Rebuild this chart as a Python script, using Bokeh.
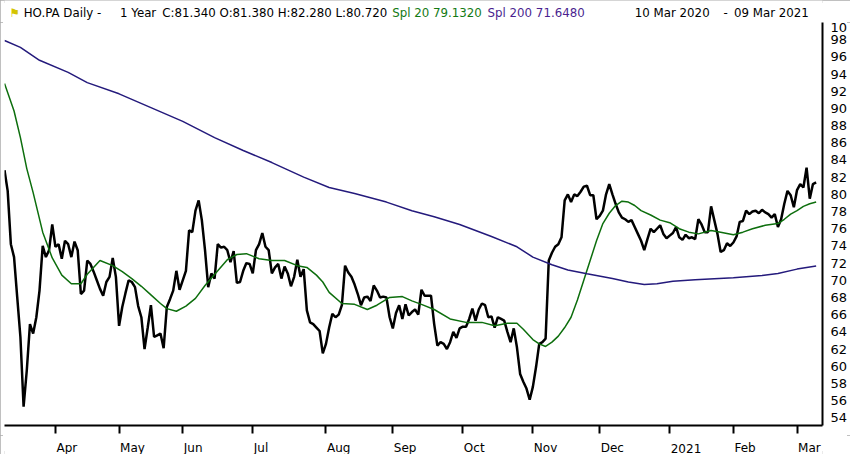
from bokeh.plotting import figure
from bokeh.models import Range1d, LinearAxis, FixedTicker
from bokeh.layouts import column
from bokeh.core.properties import value
from bokeh.embed import file_html
from bokeh.resources import INLINE

# ---- data ----
close = [
    82.8, 80.4, 74.2, 72.7, 68.0, 63.4, 55.3, 59.5, 64.9, 63.8,
    65.7, 68.8, 74.0, 72.7, 73.5, 76.5, 73.9, 74.2, 72.5, 74.6,
    74.2, 72.7, 74.5, 73.5, 68.4, 68.8, 72.3, 71.9, 71.0, 70.0,
    69.0, 68.2, 69.8, 70.4, 72.6, 70.4, 64.7, 66.9, 68.5, 70.0,
    69.8, 69.2, 67.0, 65.7, 62.0, 64.5, 67.1, 63.4, 63.6, 63.8,
    62.1, 66.9, 67.8, 68.8, 71.1, 68.9, 70.0, 71.1, 75.8, 75.6,
    78.1, 79.3, 77.0, 73.5, 69.2, 70.8, 70.2, 74.2, 73.8, 73.9,
    73.5, 72.1, 73.4, 69.7, 69.8, 71.1, 72.0, 71.9, 70.8, 73.5,
    74.2, 75.5, 73.9, 73.5, 70.8, 71.5, 71.9, 70.2, 71.6, 70.8,
    69.3, 70.4, 72.4, 70.4, 71.3, 66.5, 65.1, 64.9, 64.5, 64.1,
    61.5, 62.6, 64.5, 66.1, 65.7, 66.0, 67.1, 71.7, 70.9, 70.4,
    69.5, 68.4, 67.1, 68.0, 68.1, 67.6, 69.4, 68.8, 68.0, 68.1,
    68.0, 65.7, 64.4, 66.2, 67.1, 65.5, 67.2, 65.9, 66.3, 66.6,
    66.0, 68.9, 68.2, 68.2, 68.2, 64.9, 62.4, 62.8, 62.6, 62.0,
    62.8, 64.0, 63.3, 64.4, 64.6, 64.6, 65.5, 66.7, 65.3, 66.6,
    67.3, 67.1, 65.7, 65.8, 64.5, 65.7, 65.5, 65.3, 64.0, 62.8,
    64.4, 62.2, 59.1, 58.2, 57.4, 56.1, 57.6, 59.9, 62.6, 62.8,
    63.2, 72.3, 73.2, 73.9, 74.2, 75.0, 79.3, 80.0, 79.1, 80.0,
    79.8, 80.3, 80.9, 81.0, 79.9, 79.9, 77.1, 77.5, 78.1, 80.0,
    81.2, 80.0, 78.9, 77.9, 77.3, 77.1, 76.8, 77.0, 76.2, 75.4,
    74.6, 73.5, 74.8, 76.0, 75.6, 76.0, 76.4, 75.4, 74.9, 75.2,
    75.5, 76.2, 75.0, 74.7, 75.3, 74.9, 75.0, 74.8, 77.1, 76.5,
    75.6, 75.6, 78.6, 77.0, 75.4, 73.3, 73.5, 74.3, 74.0, 74.4,
    75.1, 76.8, 76.9, 78.1, 77.7, 78.0, 78.1, 77.8, 78.2, 77.9,
    77.7, 77.3, 77.7, 76.2, 77.1, 78.9, 80.4, 79.9, 78.5, 80.5,
    81.2, 80.8, 83.1, 79.5, 81.2, 81.4,
]
day_idx = list(range(len(close)))

sma20_idx = [0, 3, 5, 7, 9, 12, 15, 18, 21, 24, 26, 30, 34, 37, 40, 43, 46, 49,
             51, 54, 57, 60, 63, 67, 70, 73, 76, 80, 84, 88, 92, 95, 98, 100,
             102, 106, 110, 114, 117, 121, 125, 128, 131, 135, 140, 145, 150,
             154, 158, 161, 163, 166, 168, 170, 172, 174, 176, 178, 180, 182,
             184, 186, 188, 190, 192, 194, 196, 198, 200, 203, 206, 209, 212,
             215, 218, 222, 225, 229, 232, 235, 239, 243, 245, 247, 249, 251,
             253, 255]
sma20 = [92.9, 89.7, 86.6, 83.0, 80.2, 75.6, 72.6, 70.6, 69.6, 69.6, 70.7, 72.3,
         71.7, 71.0, 70.2, 69.3, 68.3, 67.3, 66.7, 66.4, 67.0, 67.9, 69.4, 71.1,
         72.4, 73.0, 73.1, 72.5, 72.3, 72.3, 71.7, 71.5, 70.6, 69.8, 68.6, 67.3,
         67.2, 66.6, 67.1, 68.0, 68.1, 67.6, 67.2, 66.6, 65.5, 65.1, 65.1, 64.7,
         65.0, 65.0, 64.3, 63.1, 62.6, 62.3, 62.8, 63.5, 64.5, 65.7, 67.7, 70.0,
         72.3, 74.6, 76.6, 77.8, 78.7, 79.2, 79.1, 78.7, 78.1, 77.6, 77.0, 76.7,
         76.0, 75.6, 75.4, 75.8, 75.6, 75.3, 75.6, 76.0, 76.4, 76.6, 77.1, 77.7,
         78.1, 78.6, 78.9, 79.1]

sma200_idx = [0, 5, 11, 20, 26, 36, 46, 56, 66, 75, 84, 94, 102, 110, 120, 128,
              135, 143, 153, 161, 166, 172, 177, 183, 191, 196, 201, 205, 210,
              217, 229, 238, 243, 249, 255]
sma200 = [97.9, 97.1, 95.6, 94.2, 93.0, 91.7, 90.1, 88.5, 86.6, 85.1, 83.7, 82.0,
          80.8, 80.1, 79.1, 78.1, 77.4, 76.5, 75.1, 73.9, 72.7, 71.8, 71.2, 70.75,
          70.2, 69.8, 69.5, 69.6, 69.9, 70.05, 70.3, 70.55, 70.8, 71.3, 71.65]

month_idx = [16, 36, 56, 78, 101, 122, 144, 166, 187, 209, 229, 249]
month_labels = ["Apr", "May", "Jun", "Jul", "Aug", "Sep", "Oct", "Nov", "Dec",
                "2021", "Feb", "Mar"]
y_ticks = list(range(54, 101, 2))
y_overrides = {100: "10"}

header_texts = ["\u2691", "HO.PA Daily -", "1 Year",
                "C:81.340 O:81.380 H:82.280 L:80.720",
                "Spl 20 79.1320", "Spl 200 71.6480",
                "10 Mar 2020", "-", "09 Mar 2021"]

# ---- layout / style ----
FONT = "DejaVu Sans"
W = 850
header_x = [5, 20, 120, 164, 403, 502, 655, 747, 758]
header_color = ["#d4c400", "black", "black", "black", "#137a13", "#4a1f8f",
                "black", "black", "black"]

xr = Range1d(0, 257)

# header strip
h = figure(width=W, height=22, output_backend="svg", toolbar_location=None,
           x_range=Range1d(0, W), y_range=Range1d(22, 0),
           x_axis_location=None, y_axis_location=None,
           min_border_left=0, min_border_right=0, min_border_top=0,
           min_border_bottom=0)
h.outline_line_color = None
for g in h.grid:
    g.visible = False
h.text(x=header_x, y=[12] * len(header_x), text=header_texts,
       text_color=header_color, text_align="left",
       text_baseline="middle", text_font=value(FONT),
       text_font_size=value("11.8px"))

# main chart
p = figure(width=W, height=413, output_backend="svg", toolbar_location=None,
           x_range=xr, y_range=Range1d(53.1, 100.0),
           x_axis_location=None, y_axis_location=None,
           min_border_left=4, min_border_right=24, min_border_top=0,
           min_border_bottom=10)
p.outline_line_color = None
for g in p.grid:
    g.visible = False

yax = LinearAxis(ticker=FixedTicker(ticks=y_ticks), major_label_overrides=y_overrides)
yax.major_tick_line_color = None
yax.minor_tick_line_color = None
yax.axis_line_width = 2
yax.axis_line_color = "black"
yax.major_label_text_font = FONT
yax.major_label_text_font_size = "13px"
yax.major_label_text_color = "black"
yax.major_label_standoff = 2
p.add_layout(yax, "right")

xax = LinearAxis(ticker=FixedTicker(ticks=month_idx),
                 major_label_overrides={m: "" for m in month_idx})
xax.major_tick_out = 8
xax.major_tick_in = 0
xax.major_tick_line_width = 2
xax.minor_tick_line_color = None
xax.axis_line_width = 2
xax.axis_line_color = "black"
xax.major_label_standoff = 0
xax.major_label_text_font_size = "0px"
p.add_layout(xax, "below")

p.line(day_idx, close, line_color="black", line_width=2.5)
p.line(sma20_idx, sma20, line_color="#0d6e0d", line_width=1.5)
p.line(sma200_idx, sma200, line_color="#241a7c", line_width=1.5)

# month names, left-aligned at their ticks
b = figure(width=W, height=19, output_backend="svg", toolbar_location=None,
           x_range=xr, y_range=Range1d(19, 0),
           x_axis_location=None, y_axis_location=None,
           min_border_left=4, min_border_right=24, min_border_top=0,
           min_border_bottom=0)
b.outline_line_color = None
for g in b.grid:
    g.visible = False
b.text(x=month_idx, y=[12.5] * len(month_idx), text=month_labels, x_offset=1,
       text_color="black", text_align="left", text_baseline="alphabetic",
       text_font=value(FONT), text_font_size=value("12px"))

layout = column(h, p, b, spacing=0,
                styles={"outline": "3px solid #ababab", "outline-offset": "-3px"})
open("out.html", "w").write(file_html(layout, INLINE))
